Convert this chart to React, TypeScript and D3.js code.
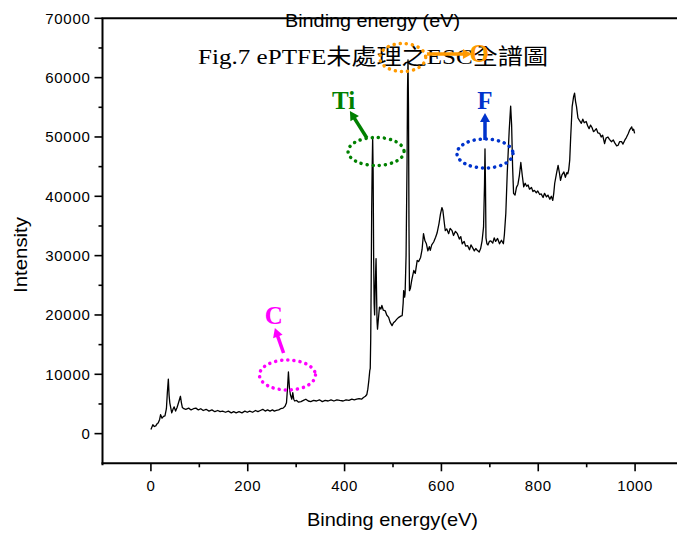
import React from "react";
import * as d3 from "d3";

// Binding energy (eV) and intensity
const energy = [
  0, 4, 7, 10, 13, 15, 18, 20, 23, 26, 29, 32, 34, 36, 37.5, 39, 43, 46, 48, 51, 54, 57, 61, 63, 65, 68,
  72, 78, 83, 88, 93, 98, 103, 108, 114, 120, 126, 132, 138, 143, 148, 154, 160, 166, 171, 176, 182,
  188, 194, 199, 204, 210, 216, 221, 226, 231, 236, 241, 246, 251, 255, 259, 264, 268, 273, 277, 280,
  282, 284, 286, 288, 291, 293, 295, 297, 301, 305, 310, 315, 320, 325, 330, 336, 342, 348, 354, 360,
  366, 372, 378, 384, 390, 397, 403, 409, 415, 420, 425, 430, 435, 439, 443, 446, 448, 450, 452, 453,
  454, 455, 456, 457, 458, 459, 460, 461, 462, 463, 465, 466, 467, 468, 470, 472, 475, 477, 480, 484,
  487, 491, 494, 498, 501, 505, 508, 512, 516, 519, 521, 522, 524, 525, 527, 529, 530, 531, 532, 533,
  534, 536, 539, 543, 546, 550, 553, 557, 560, 563, 566, 569, 572, 575, 577, 580, 584, 588, 591, 595,
  598, 601, 603, 606, 608, 611, 615, 618, 622, 625, 629, 633, 637, 640, 643, 647, 650, 654, 658, 661,
  664, 668, 671, 674, 678, 681, 684, 687, 689, 690, 691, 692, 694, 696, 699, 702, 706, 709, 712, 716,
  720, 724, 728, 730, 733, 736, 740, 743, 745, 747, 749, 752, 755, 758, 761, 764, 767, 770, 773, 776,
  779, 782, 786, 789, 792, 796, 799, 803, 806, 810, 813, 817, 820, 824, 827, 830, 832, 834, 838, 841,
  844, 846, 849, 853, 856, 859, 861, 863, 865, 867, 870, 873, 875, 877, 879, 882, 885, 889, 892, 895,
  899, 902, 905, 908, 911, 914, 917, 920, 923, 927, 930, 933, 937, 940, 944, 947, 951, 955, 958, 962,
  965, 968, 972, 975, 979, 982, 986, 989, 993, 995, 997, 999,
];
const intensity = [
  700, 1500, 1200, 1300, 1700, 1800, 2400, 3200, 2600, 2900, 3000, 4200, 7000, 9200, 6500, 5200, 3500,
  4200, 4500, 3800, 4400, 5200, 6300, 5200, 4400, 4200, 4100, 4300, 4000, 4200, 4300, 4000, 4200, 3900,
  4100, 3800, 4000, 3700, 3900, 3700, 3800, 3600, 3800, 3500, 3700, 3500, 3700, 3500, 3800, 3600, 3800,
  3600, 3900, 3700, 3900, 4100, 3800, 4000, 3800, 4000, 3800, 3900, 4000, 4200, 4300, 4600, 5200, 7500,
  10400, 7800, 6600, 5800, 6900, 5800, 5500, 5600, 5300, 5400, 5600, 5800, 5500, 5400, 5600, 5500, 5700,
  5400, 5600, 5500, 5700, 5500, 5700, 5600, 5500, 5700, 5600, 5800, 5700, 5800, 5900, 5800, 6100, 6300,
  6600, 7500, 8900, 10600, 11000, 16000, 26000, 38000, 45000, 49900, 44000, 30000, 22000, 20000, 24000,
  29500, 24000, 19000, 17600, 19500, 21300, 21000, 21600, 20800, 20700, 20000, 19600, 18800, 18200,
  18700, 19000, 19300, 19600, 19800, 19900, 22000, 24100, 23000, 23600, 30000, 45600, 58000, 63000,
  55000, 35000, 24100, 24500, 26000, 27500, 27000, 29200, 29000, 29700, 31000, 33700, 32500, 32000,
  30800, 31500, 30900, 31800, 32300, 33100, 33800, 35400, 37000, 38100, 37600, 35500, 34200, 34500,
  33700, 34600, 34200, 33400, 34100, 33700, 32800, 33200, 32000, 32400, 31600, 31700, 31000, 31800,
  31400, 30800, 31200, 30900, 30600, 31200, 32500, 34800, 42000, 48000, 42000, 33000, 32000, 31800,
  32400, 32500, 32100, 33000, 32400, 32900, 32000, 32600, 32000, 33500, 37100, 44000, 51100, 55200,
  52000, 45000, 40500, 40200, 41500, 42000, 43500, 45700, 43500, 41600, 42200, 41700, 41900, 41200,
  41500, 40800, 41000, 40600, 40900, 40300, 40400, 39800, 40500, 39900, 40200, 39500, 40000, 39300,
  40500, 42200, 44000, 45200, 43800, 42700, 43600, 44100, 43200, 44000, 43800, 44500, 46100, 50000,
  55100, 56800, 57400, 56000, 55100, 53200, 52800, 52300, 53000, 52400, 52600, 51900, 51400, 52000,
  51600, 50900, 51100, 51400, 50700, 50600, 50000, 50300, 48900, 49800, 50000, 49600, 49200, 49500,
  49000, 48500, 48600, 49200, 49200, 48800, 49500, 49900, 50600, 51200, 51700, 51100, 51300, 50600,
];

const xMajorTicks = [0, 200, 400, 600, 800, 1000];
const xMinorTicks = [100, 300, 500, 700, 900];
const yMajorTicks = [0, 10000, 20000, 30000, 40000, 50000, 60000, 70000];
const yMinorTicks = [5000, 15000, 25000, 35000, 45000, 55000, 65000];

// Element annotations (in data units)
const annLabels = ["Ti", "F", "C", "O"];
const annColors = ["#008000", "#0033cc", "#ff00ff", "#ff9a00"];
const annEllipseX = [465, 690, 282, 520];
const annEllipseY = [47550, 47210, 9880, 63390];
const annEllipseRx = [28, 28, 28, 23];
const annEllipseRy = [14, 14.5, 15, 14];
const annArrowFrom = [[446, 49820], [690, 49480], [274, 13590], [570, 63980]];
const annArrowTo = [[411, 54370], [690, 54040], [256, 17800], [663, 63980]];
const annLabelPos = [[398, 54710], [690, 54790], [254, 18560], [678, 62630]];

const W = 677;
const H = 536;

function Arrow({ x1, y1, x2, y2, color }: any) {
  const dx = x2 - x1;
  const dy = y2 - y1;
  const len = Math.hypot(dx, dy);
  const ux = dx / len;
  const uy = dy / len;
  const hl = 9;
  const hw = 5;
  const bx = x2 - ux * hl;
  const by = y2 - uy * hl;
  const px = -uy;
  const py = ux;
  return (
    <g>
      <line x1={x1} y1={y1} x2={bx + ux} y2={by + uy} stroke={color} strokeWidth={3.5} />
      <polygon
        points={`${x2},${y2} ${bx + px * hw},${by + py * hw} ${bx - px * hw},${by - py * hw}`}
        fill={color}
      />
    </g>
  );
}

export default function App() {
  const x = d3.scaleLinear().domain([-100, 1100]).range([102.5, 683.5]);
  const y = d3.scaleLinear().domain([-5000, 70000]).range([463.3, 18.3]);
  const pts: [number, number][] = energy.map((e, i) => [e, intensity[i]]);
  const line = d3
    .line<[number, number]>()
    .x((d) => x(d[0]))
    .y((d) => y(d[1]));

  const axisFont = "'Liberation Sans', Arial, Helvetica, sans-serif";
  const x0 = x(-100);
  const yBottom = y(-5000);
  const yTop = y(70000);

  return (
    <svg
      width={W}
      height={H}
      style={{ position: "absolute", left: 0, top: 0, background: "#fff" }}
    >
      <rect width={W} height={H} fill="#fff" />
      {/* spectrum */}
      <path d={line(pts) || ""} fill="none" stroke="#000" strokeWidth={1.3} strokeLinejoin="round" />

      {/* axes */}
      <line x1={x0} y1={yTop} x2={x0} y2={yBottom + 2} stroke="#000" strokeWidth={2} />
      <line x1={x0 - 1} y1={yBottom} x2={x(1100)} y2={yBottom} stroke="#000" strokeWidth={2} />
      <line x1={x0 - 1} y1={yTop} x2={x(1100)} y2={yTop} stroke="#000" strokeWidth={2} />

      {yMajorTicks.map((t) => (
        <g key={"ym" + t}>
          <line x1={x0 - 8} x2={x0} y1={y(t)} y2={y(t)} stroke="#000" strokeWidth={1.6} />
          <text
            x={x0 - 12}
            y={y(t)}
            dy="0.36em"
            textAnchor="end"
            fontFamily={axisFont}
            fontSize={15}
            letterSpacing={0.7}
            fill="#000"
          >
            {t}
          </text>
        </g>
      ))}
      {yMinorTicks.map((t) => (
        <line key={"yn" + t} x1={x0 - 4} x2={x0} y1={y(t)} y2={y(t)} stroke="#000" strokeWidth={1.6} />
      ))}
      {xMajorTicks.map((t) => (
        <g key={"xm" + t}>
          <line x1={x(t)} x2={x(t)} y1={yBottom} y2={yBottom + 8} stroke="#000" strokeWidth={1.6} />
          <text
            x={x(t)}
            y={yBottom + 27.5}
            textAnchor="middle"
            fontFamily={axisFont}
            fontSize={15}
            letterSpacing={0.6}
            fill="#000"
          >
            {t}
          </text>
        </g>
      ))}
      {xMinorTicks.map((t) => (
        <line key={"xn" + t} x1={x(t)} x2={x(t)} y1={yBottom} y2={yBottom + 4} stroke="#000" strokeWidth={1.6} />
      ))}

      {/* axis titles */}
      <text
        x={392.5}
        y={526}
        textAnchor="middle"
        fontFamily={axisFont}
        fontSize={19}
        textLength={171}
        lengthAdjust="spacingAndGlyphs"
        fill="#000"
      >
        Binding energy(eV)
      </text>
      <text
        x={372.5}
        y={27}
        textAnchor="middle"
        fontFamily={axisFont}
        fontSize={18}
        textLength={175}
        lengthAdjust="spacingAndGlyphs"
        fill="#000"
      >
        Binding energy (eV)
      </text>
      <text
        transform="translate(27,255) rotate(-90)"
        textAnchor="middle"
        fontFamily={axisFont}
        fontSize={18}
        textLength={76}
        lengthAdjust="spacingAndGlyphs"
        fill="#000"
      >
        Intensity
      </text>

      {/* figure title */}
      <text
        x={198}
        y={64}
        fontFamily="'Liberation Serif', 'Times New Roman', 'Noto Sans CJK TC', serif"
        fontSize={22}
        textLength={350}
        lengthAdjust="spacingAndGlyphs"
        fill="#000"
      >
        Fig.7 ePTFE未處理之ESC全譜圖
      </text>

      {/* annotations */}
      {annLabels.map((lab, i) => (
        <g key={lab}>
          <ellipse
            cx={x(annEllipseX[i])}
            cy={y(annEllipseY[i])}
            rx={annEllipseRx[i]}
            ry={annEllipseRy[i]}
            fill="none"
            stroke={annColors[i]}
            strokeWidth={3.5}
            strokeDasharray="0.1 6"
            strokeLinecap="round"
          />
          <Arrow
            x1={x(annArrowFrom[i][0])}
            y1={y(annArrowFrom[i][1])}
            x2={x(annArrowTo[i][0])}
            y2={y(annArrowTo[i][1])}
            color={annColors[i]}
          />
          <text
            x={x(annLabelPos[i][0])}
            y={y(annLabelPos[i][1])}
            textAnchor="middle"
            fontFamily="'Liberation Serif', 'Times New Roman', serif"
            fontWeight="bold"
            fontSize={25}
            fill={annColors[i]}
          >
            {lab}
          </text>
        </g>
      ))}
    </svg>
  );
}
